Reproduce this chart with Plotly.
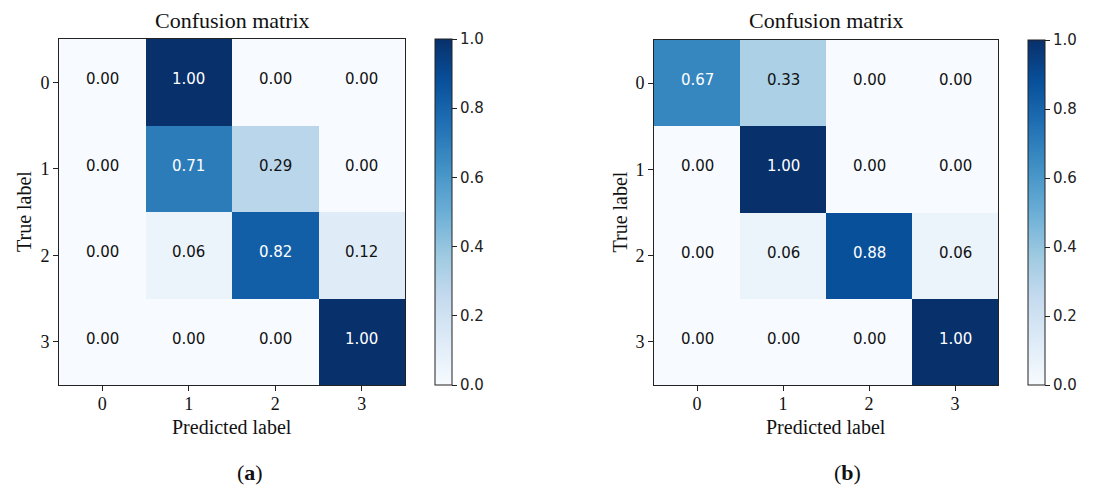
import plotly.graph_objects as go

labels = [0, 1, 2, 3]
cm_a = [
    [0.00, 1.00, 0.00, 0.00],
    [0.00, 0.71, 0.29, 0.00],
    [0.00, 0.06, 0.82, 0.12],
    [0.00, 0.00, 0.00, 1.00],
]
cm_b = [
    [0.67, 0.33, 0.00, 0.00],
    [0.00, 1.00, 0.00, 0.00],
    [0.00, 0.06, 0.88, 0.06],
    [0.00, 0.00, 0.00, 1.00],
]
cbar_ticks = [0.0, 0.2, 0.4, 0.6, 0.8, 1.0]
panel_letters = ["a", "b"]

blues = [
    [0.0, "rgb(247,251,255)"], [0.125, "rgb(222,235,247)"], [0.25, "rgb(198,219,239)"],
    [0.375, "rgb(158,202,225)"], [0.5, "rgb(107,174,214)"], [0.625, "rgb(66,146,198)"],
    [0.75, "rgb(33,113,181)"], [0.875, "rgb(8,81,156)"], [1.0, "rgb(8,48,107)"],
]

OFF = 8  # page body margin
W, H = 1096 - OFF, 496 - OFF
SERIF = "Liberation Serif, Times New Roman, serif"
SANS = "DejaVu Sans, sans-serif"

def px_x(p):
    return (p - OFF) / W

def px_y(p):
    return 1 - (p - OFF) / H

panels = [
    dict(data=cm_a, x0=59, x1=405, y0=39, y1=385, cb=435, lab_x=250, xa="x", ya="y"),
    dict(data=cm_b, x0=654, x1=998, y0=40, y1=385, cb=1028, lab_x=847, xa="x2", ya="y2"),
]

fig = go.Figure()
annotations = []
layout_axes = {}

for k, p in enumerate(panels):
    fig.add_trace(go.Heatmap(
        z=p["data"], x=labels, y=labels, xaxis=p["xa"], yaxis=p["ya"],
        colorscale=blues, zmin=0, zmax=1, hoverinfo="z",
        colorbar=dict(
            x=px_x(p["cb"]), xanchor="left", y=px_y(p["y1"]), yanchor="bottom",
            len=(p["y1"] - p["y0"]) / H, lenmode="fraction",
            thickness=17, thicknessmode="pixels", xpad=0, ypad=0,
            outlinewidth=1, outlinecolor="#222",
            ticks="outside", ticklen=5, tickcolor="#222", tickwidth=1,
            tickvals=cbar_ticks, ticktext=[f"{t:.1f}" for t in cbar_ticks],
            tickfont=dict(family=SANS, size=15, color="#222"),
        ),
    ))
    sfx = "" if k == 0 else "2"
    common = dict(
        showgrid=False, zeroline=False, showline=True, mirror=True,
        linecolor="#222", linewidth=1, ticks="outside", ticklen=5,
        tickcolor="#222", tickwidth=1,
        tickfont=dict(family=SERIF, size=18, color="#111"),
        tickvals=labels, ticktext=[str(v) for v in labels],
    )
    layout_axes["xaxis" + sfx] = dict(
        common, domain=[px_x(p["x0"]), px_x(p["x1"])], range=[-0.5, 3.5],
        anchor="y" + sfx, ticklabelstandoff=-3,
    )
    layout_axes["yaxis" + sfx] = dict(
        common, domain=[px_y(p["y1"]), px_y(p["y0"])], range=[3.5, -0.5],
        anchor="x" + sfx,
    )
    for i, row in enumerate(p["data"]):
        for j, v in enumerate(row):
            annotations.append(dict(
                x=labels[j], y=labels[i], xref=p["xa"], yref=p["ya"],
                text=f"{v:.2f}", showarrow=False, yshift=3,
                font=dict(family=SANS, size=15, color="white" if v > 0.5 else "#111"),
            ))
    cx = (p["x0"] + p["x1"]) / 2
    annotations.append(dict(
        x=px_x(cx), y=px_y(20), xref="paper", yref="paper", text="Confusion matrix",
        showarrow=False, font=dict(family=SERIF, size=22, color="#111"),
        xanchor="center", yanchor="middle",
    ))
    annotations.append(dict(
        x=px_x(cx), y=px_y(427), xref="paper", yref="paper", text="Predicted label",
        showarrow=False, font=dict(family=SERIF, size=20, color="#111"),
        xanchor="center", yanchor="middle",
    ))
    annotations.append(dict(
        x=px_x(p["x0"] - 35), y=px_y((p["y0"] + p["y1"]) / 2), xref="paper", yref="paper",
        text="True label", textangle=-90, showarrow=False,
        font=dict(family=SERIF, size=20, color="#111"),
        xanchor="center", yanchor="middle",
    ))
    annotations.append(dict(
        x=px_x(p["lab_x"]), y=px_y(472), xref="paper", yref="paper",
        text="(<b>" + panel_letters[k] + "</b>)",
        showarrow=False, font=dict(family=SERIF, size=22, color="#111"),
        xanchor="center", yanchor="middle",
    ))

fig.update_layout(
    width=W, height=H, autosize=False,
    margin=dict(l=0, r=0, t=0, b=0),
    paper_bgcolor="white", plot_bgcolor="white",
    annotations=annotations, showlegend=False,
    **layout_axes,
)

fig.write_html("out.html")
